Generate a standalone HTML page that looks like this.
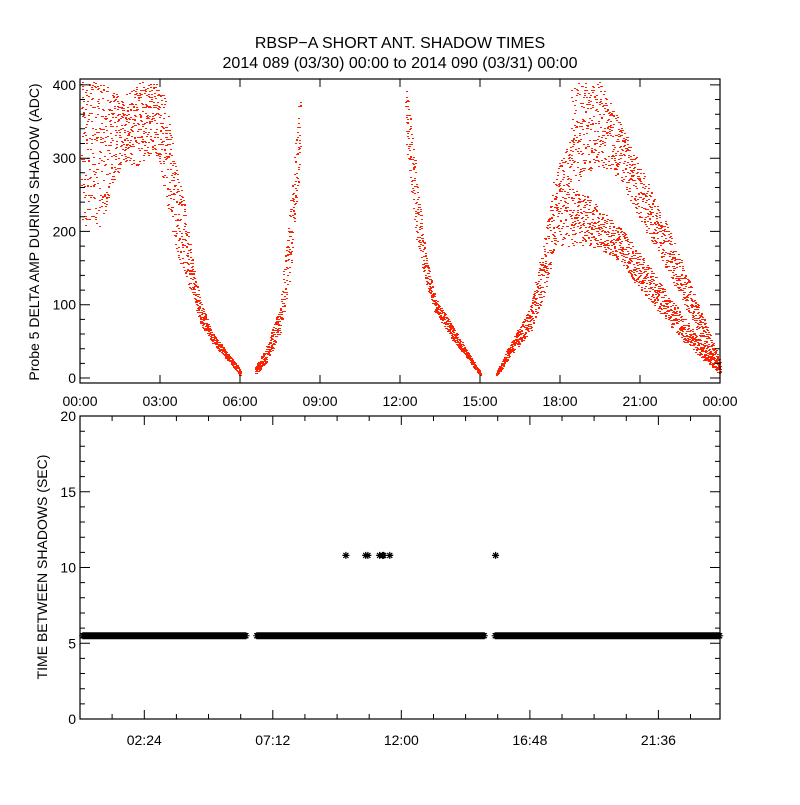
<!DOCTYPE html>
<html><head><meta charset="utf-8"><style>
body{margin:0;background:#fff;}
svg text{font-family:"Liberation Sans",sans-serif;fill:#000;}
</style></head><body>
<svg id="c" width="800" height="800" viewBox="0 0 800 800">
<rect width="800" height="800" fill="#fff"/>
<text x="400" y="48" font-size="16" text-anchor="middle">RBSP−A SHORT ANT. SHADOW TIMES</text>
<text x="400" y="68" font-size="16" text-anchor="middle">2014 089 (03/30) 00:00 to 2014 090 (03/31) 00:00</text>
<g id="topPanel"></g>
<g id="botPanel"></g>
</svg>
<script>
// top panel envelope data: time (h), low and high ADC values
const segA_t=[0.03,0.4,0.75,1.1,1.5,2.25,2.8,3.2,3.55,3.9,4.3,4.5,4.9,5.4,6.0];
const segA_lo=[200,220,205,250,290,290,310,250,180,140,100,75,50,30,3];
const segA_hi=[405,405,405,400,380,405,405,380,300,240,140,105,65,40,12];
const segB_t=[6.55,6.95,7.5,7.9,8.25];
const segB_lo=[5,20,60,150,300];
const segB_hi=[15,40,100,250,405];
const segC_t=[12.2,12.55,12.95,13.3,13.9,14.45,15.0];
const segC_lo=[330,200,130,90,55,30,2];
const segC_hi=[405,300,170,110,75,40,8];
const segD_t=[15.6,16.1,16.9,17.45,17.8,18.4];
const segD_lo=[2,30,65,120,180,180];
const segD_hi=[8,45,100,200,280,330];
const segE_t=[18.4,19.0,19.5,20.25,21,21.75,22.5,23.25,24];
const segE_lo=[260,280,290,270,215,165,110,55,10];
const segE_hi=[400,405,405,350,290,230,165,95,22];
const segF_t=[18.4,19.0,19.5,20.25,21,21.75,22.5,23.25,24];
const segF_lo=[180,180,175,160,120,88,55,28,5];
const segF_hi=[260,250,230,205,170,130,90,52,15];
const topYTicks=[0,100,200,300,400];
const topXTicks=[0,3,6,9,12,15,18,21,24];
const topXLabels=["00:00","03:00","06:00","09:00","12:00","15:00","18:00","21:00","00:00"];
// bottom panel data
const botRuns_start=[0.1,6.6,15.5];
const botRuns_end=[6.2,15.1,23.9];
const botBase=[5.5,5.5,5.5];
const outT=[9.93,10.67,10.75,11.19,11.3,11.34,11.57,15.52];
const outV=[10.8,10.8,10.8,10.8,10.8,10.8,10.8,10.8];
const botYTicks=[0,5,10,15,20];
const botXTicks=[2.4,7.2,12,16.8,21.6];
const botXLabels=["02:24","07:12","12:00","16:48","21:36"];

const NS="http://www.w3.org/2000/svg";
function mk(p,tag,a){const e=document.createElementNS(NS,tag);for(const k in a)e.setAttribute(k,a[k]);p.appendChild(e);return e;}
const L=80,R=720;
const tT=79,tB=383,tYmin=-6.8,tYmax=408;
const tx=h=>L+h/24*(R-L);
const ty=v=>tB-(v-tYmin)/(tYmax-tYmin)*(tB-tT);
const bT=416,bB=719,bXmax=23.9;
const bx=h=>L+h/bXmax*(R-L);
const by=v=>bB-v/20*(bB-bT);

const topG=document.getElementById('topPanel');
let seed=12345;
function rnd(){seed|=0;seed=seed+0x6D2B79F5|0;let t=Math.imul(seed^seed>>>15,1|seed);t=t+Math.imul(t^t>>>7,61|t)^t;return((t^t>>>14)>>>0)/4294967296;}
function interp(ts,vs,t){for(let i=0;i<ts.length-1;i++){if(t>=ts[i]&&t<=ts[i+1]){const f=(t-ts[i])/(ts[i+1]-ts[i]);return vs[i]+f*(vs[i+1]-vs[i]);}}return null;}
const pts=mk(topG,'g',{fill:'#ff2200','shape-rendering':'crispEdges'});


let d='';
[[segA_t,segA_lo,segA_hi,0.0045],[segB_t,segB_lo,segB_hi,0.0045],[segC_t,segC_lo,segC_hi,0.0045],[segD_t,segD_lo,segD_hi,0.0045],[segE_t,segE_lo,segE_hi,0.0055],[segF_t,segF_lo,segF_hi,0.0055]].forEach(s=>{
  const ts=s[0],lo=s[1],hi=s[2],dt=s[3];
  for(let t=ts[0];t<=ts[ts.length-1];t+=dt){
    const a=interp(ts,lo,t),b=interp(ts,hi,t);if(a===null)continue;
    const v=a+rnd()*(b-a);if(v>405)continue;
    const X=Math.round(tx(t)),Y=Math.round(ty(v));
    d+='M'+X+' '+Y+'h2v1h-2z';
  }
});
mk(pts,'path',{d:d});
const tf=mk(topG,'rect',{x:L,y:tT,width:R-L,height:tB-tT,fill:'none',stroke:'#000','stroke-width':1.2});


let tk='';
for(let v=0;v<=400;v+=20){const Y=ty(v).toFixed(1);const len=v%100===0?10:5;tk+='M'+L+' '+Y+'h'+len+'M'+R+' '+Y+'h'+(-len);}
topXTicks.forEach(h=>{const X=tx(h).toFixed(1);tk+='M'+X+' '+tB+'v-8M'+X+' '+tT+'v8';});
mk(topG,'path',{d:tk,stroke:'#000','stroke-width':1,fill:'none'});
topYTicks.forEach(v=>{const t=mk(topG,'text',{x:L-4,y:ty(v)+5,'font-size':14,'text-anchor':'end'});t.textContent=v;

});
topXTicks.forEach((h,i)=>{const t=mk(topG,'text',{x:tx(h),y:406,'font-size':14,'text-anchor':'middle'});t.textContent=topXLabels[i];

});
const yl=mk(topG,'text',{x:0,y:0,'font-size':14,'text-anchor':'middle',transform:'translate(39,232) rotate(-90)'});
yl.textContent='Probe 5 DELTA AMP DURING SHADOW (ADC)';



const botG=document.getElementById('botPanel');
const bf=mk(botG,'rect',{x:L,y:bT,width:R-L,height:bB-bT,fill:'none',stroke:'#000','stroke-width':1.2});


let bk='';
for(let v=0;v<=20;v+=1){const Y=by(v).toFixed(1);const len=v%5===0?10:5;bk+='M'+L+' '+Y+'h'+len+'M'+R+' '+Y+'h'+(-len);}
for(let k=0;k*1.2<=bXmax;k++){const h=k*1.2;const X=bx(h).toFixed(1);const len=k%4===2?9:5;bk+='M'+X+' '+bB+'v'+(-len)+'M'+X+' '+bT+'v'+len;}
mk(botG,'path',{d:bk,stroke:'#000','stroke-width':1,fill:'none'});
function star(X,Y){return 'M'+(X-3.5)+' '+Y+'h7M'+X+' '+(Y-3.5)+'v7M'+(X-2.5)+' '+(Y-2.5)+'l5 5M'+(X-2.5)+' '+(Y+2.5)+'l5 -5';}
let sd='';
botRuns_start.forEach((s,i)=>{for(let t=s;t<=botRuns_end[i];t+=0.01){sd+=star(+bx(t).toFixed(1),+by(botBase[i]).toFixed(1));}});
const band=mk(botG,'path',{d:sd,stroke:'#000','stroke-width':1,fill:'none'});


let od='';outT.forEach((t,i)=>{od+=star(+bx(t).toFixed(1),+by(outV[i]).toFixed(1));});
const ob=mk(botG,'path',{d:od,stroke:'#000','stroke-width':1.2,fill:'none'});


botYTicks.forEach(v=>{const t=mk(botG,'text',{x:L-4,y:by(v)+5,'font-size':14,'text-anchor':'end'});t.textContent=v;

});
botXTicks.forEach((h,i)=>{const t=mk(botG,'text',{x:bx(h),y:745,'font-size':14,'text-anchor':'middle'});t.textContent=botXLabels[i];

});
const yl2=mk(botG,'text',{x:0,y:0,'font-size':14,'text-anchor':'middle',transform:'translate(47,567) rotate(-90)'});
yl2.textContent='TIME BETWEEN SHADOWS (SEC)';


</script>
</body></html>
